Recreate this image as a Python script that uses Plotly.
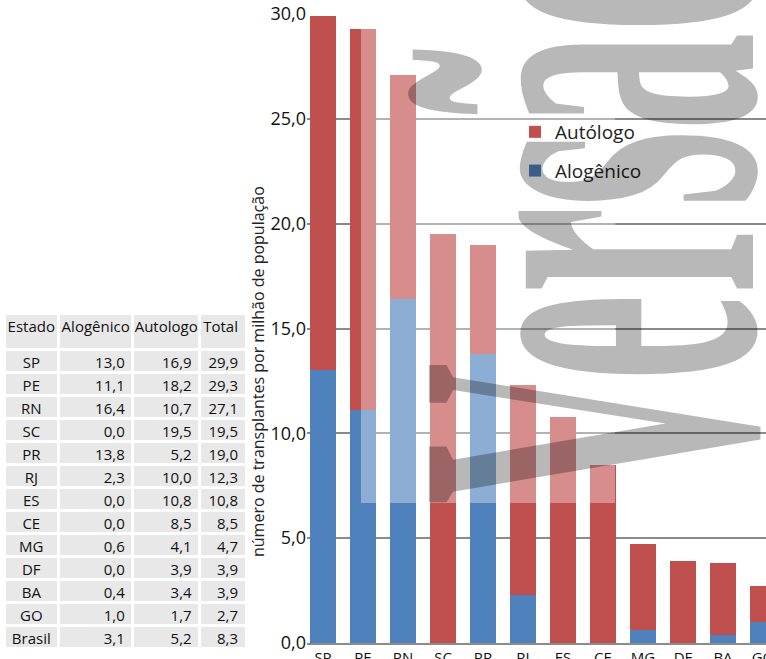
import plotly.graph_objects as go

# ---------------- data ----------------
estados = ["SP", "PE", "RN", "SC", "PR", "RJ", "ES", "CE", "MG", "DF", "BA", "GO"]
alogenico = [13.0, 11.1, 16.4, 0.0, 13.8, 2.3, 0.0, 0.0, 0.6, 0.0, 0.4, 1.0]
autologo = [16.9, 18.2, 10.7, 19.5, 5.2, 10.0, 10.8, 8.5, 4.1, 3.9, 3.4, 1.7]
total = [29.9, 29.3, 27.1, 19.5, 19.0, 12.3, 10.8, 8.5, 4.7, 3.9, 3.9, 2.7]
brasil_row = ["Brasil", 3.1, 5.2, 8.3]
table_header = ["Estado", "Alogênico", "Autologo", "Total"]
y_tickvals = [0, 5, 10, 15, 20, 25, 30]
y_title = "número de transplantes por milhão de população"
watermark = "Versão"

W, H = 766, 659
def px(x):
    return x / W
def py(y):
    return 1 - y / H

def fmt(v):
    return f"{v:.1f}".replace(".", ",")

BLUE = "#4f81bd"
RED = "#c0504d"
FONT = "Open Sans"

fig = go.Figure()

fig.add_trace(go.Bar(
    x=estados, y=alogenico, name="Alogênico", legendgroup="alo", legendrank=2,
    marker=dict(color=BLUE, line=dict(width=0)), width=0.65,
))
fig.add_trace(go.Bar(
    x=estados, y=autologo, name="Autólogo", legendgroup="auto", legendrank=1,
    marker=dict(color=RED, line=dict(width=0)), width=0.65,
))

col_estado = estados + [brasil_row[0]]
col_alo = [fmt(v) for v in alogenico] + [fmt(brasil_row[1])]
col_auto = [fmt(v) for v in autologo] + [fmt(brasil_row[2])]
col_tot = [fmt(v) for v in total] + [fmt(brasil_row[3])]

fig.add_trace(go.Table(
    domain=dict(x=[px(4), px(247)], y=[py(652), py(313)]),
    columnwidth=[53, 72, 65, 45],
    header=dict(values=table_header, fill_color="#e8e8e8",
                line=dict(color="white", width=3),
                align=["center", "center", "center", "right"],
                font=dict(family=FONT, size=15, color="#111111"), height=36),
    cells=dict(values=[col_estado, col_alo, col_auto, col_tot],
               fill_color="#e8e8e8", line=dict(color="white", width=3),
               align=["center", "right", "right", "right"],
               font=dict(family=FONT, size=15, color="#111111"), height=23),
))

fig.update_layout(
    width=W, height=H,
    margin=dict(l=0, r=0, t=0, b=0),
    paper_bgcolor="white", plot_bgcolor="white",
    barmode="stack", bargap=0.35,
    separators=",.",
    font=dict(family=FONT, color="#111111"),
    showlegend=True,
    legend=dict(x=px(515), y=py(113), xanchor="left", yanchor="top",
                font=dict(family=FONT, size=19, color="#222222"),
                traceorder="grouped", tracegroupgap=11,
                bgcolor="rgba(0,0,0,0)"),
    xaxis=dict(domain=[px(307), 1], range=[-0.4, 11.075], type="category",
               showgrid=False, showline=True, linecolor="#8c8c8c", linewidth=1.5,
               ticks="", tickfont=dict(family=FONT, size=15, color="#111111"),
               automargin=False, zeroline=False, fixedrange=True),
    yaxis=dict(domain=[16 / H, 1 - 14 / H], range=[0, 30],
               tickvals=y_tickvals, tickformat=".1f",
               showgrid=True, gridcolor="#8a8a8a", gridwidth=1.5,
               zeroline=False, showline=False, ticks="",
               tickfont=dict(family=FONT, size=18, color="#111111"),
               automargin=False, fixedrange=True),
    shapes=[dict(type="rect", xref="paper", yref="paper",
                 x0=px(361), x1=px(615), y0=py(503), y1=1,
                 fillcolor="white", opacity=0.35, line=dict(width=0), layer="above")],
    annotations=[
        dict(text=y_title, xref="paper", yref="paper",
             x=px(258), y=py(372), xanchor="center", yanchor="middle",
             textangle=-90, showarrow=False,
             font=dict(family=FONT, size=16, color="#222222")),
        dict(text=watermark, xref="paper", yref="paper",
             x=px(586), y=py(220), xanchor="center", yanchor="middle",
             textangle=-90, showarrow=False,
             font=dict(family="Liberation Serif", size=495, weight="bold",
                       color="rgba(0,0,0,0.28)")),
    ],
)

post = """
document.body.style.margin = '0';
document.querySelectorAll('.annotation-text').forEach(function(t){
  if (t.textContent.indexOf('Vers') === 0) {
    var bb = t.getBBox();
    var cx = bb.x + bb.width / 2, cy = bb.y + bb.height / 2;
    var ex = t.getAttribute('transform') || '';
    t.setAttribute('transform', ex + ' translate(' + cx + ',' + cy + ') scale(0.396,1) translate(' + (-cx) + ',' + (-cy) + ')');
  }
});
"""

fig.write_html("out.html", post_script=post, config={"displayModeBar": False})
